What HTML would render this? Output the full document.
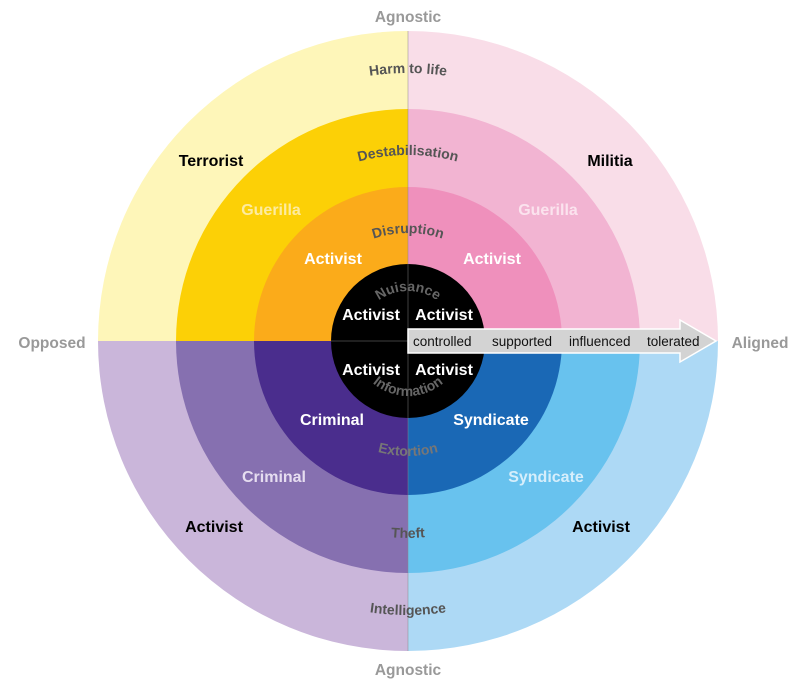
<!DOCTYPE html>
<html><head><style>
html,body{margin:0;padding:0;background:#fff;}
svg text{font-family:"Liberation Sans",Arial,sans-serif;font-weight:bold;}
</style></head><body>
<svg width="800" height="689" viewBox="0 0 800 689" xmlns="http://www.w3.org/2000/svg">
<defs>
<path id="t1" d="M140,341 A268,268 0 0 1 676,341"/>
<path id="t2" d="M222,341 A186,186 0 0 1 594,341"/>
<path id="t3" d="M300,341 A108,108 0 0 1 516,341"/>
<path id="t4" d="M358,341 A50,50 0 0 1 458,341"/>
<path id="b4" d="M353,341 A55,55 0 0 0 463,341"/>
<path id="b3" d="M293,341 A115,115 0 0 0 523,341"/>
<path id="b2" d="M211,341 A197,197 0 0 0 605,341"/>
<path id="b1" d="M134,341 A274,274 0 0 0 682,341"/>
</defs>
<g>
<path d="M408,341 L408,31 A310,310 0 0 0 98,341 Z" fill="#FEF6B9"/>
<path d="M408,341 L408,31 A310,310 0 0 1 718,341 Z" fill="#F9DDE8"/>
<path d="M408,341 L98,341 A310,310 0 0 0 408,651 Z" fill="#CAB6DA"/>
<path d="M408,341 L718,341 A310,310 0 0 1 408,651 Z" fill="#ADD9F5"/>
<path d="M408,341 L408,109 A232,232 0 0 0 176,341 Z" fill="#FCD006"/>
<path d="M408,341 L408,109 A232,232 0 0 1 640,341 Z" fill="#F2B4D2"/>
<path d="M408,341 L176,341 A232,232 0 0 0 408,573 Z" fill="#8670B0"/>
<path d="M408,341 L640,341 A232,232 0 0 1 408,573 Z" fill="#68C2EE"/>
<path d="M408,341 L408,187 A154,154 0 0 0 254,341 Z" fill="#FBAB1A"/>
<path d="M408,341 L408,187 A154,154 0 0 1 562,341 Z" fill="#EF90BC"/>
<path d="M408,341 L254,341 A154,154 0 0 0 408,495 Z" fill="#4A2D8D"/>
<path d="M408,341 L562,341 A154,154 0 0 1 408,495 Z" fill="#1A68B5"/>
<circle cx="408" cy="341" r="77" fill="#000"/>
<line x1="408" y1="31" x2="408" y2="651" stroke="#888" stroke-width="0.8" opacity="0.6"/>
<line x1="331" y1="341" x2="408" y2="341" stroke="#555" stroke-width="0.8"/>
</g>
<path d="M408,329 L680,329 L680,320 L716,341 L680,362 L680,353 L408,353 Z" fill="#D3D3D3" stroke="#fff" stroke-width="1.5"/>
<g font-size="13.5" fill="#111">
<text x="413" y="346" style="font-weight:normal">controlled</text>
<text x="492" y="346" style="font-weight:normal">supported</text>
<text x="569" y="346" style="font-weight:normal">influenced</text>
<text x="647" y="346" style="font-weight:normal">tolerated</text>
</g>
<g font-size="14" fill="#555" text-anchor="middle">
<text><textPath href="#t1" startOffset="50%">Harm to life</textPath></text>
<text><textPath href="#t2" startOffset="50%">Destabilisation</textPath></text>
<text><textPath href="#t3" startOffset="50%">Disruption</textPath></text>
<text fill="#666"><textPath href="#t4" startOffset="50%">Nuisance</textPath></text>
<text fill="#666"><textPath href="#b4" startOffset="50%">Information</textPath></text>
<text fill="#777"><textPath href="#b3" startOffset="50%">Extortion</textPath></text>
<text><textPath href="#b2" startOffset="50%">Theft</textPath></text>
<text><textPath href="#b1" startOffset="50%">Intelligence</textPath></text>
</g>
<g font-size="16" text-anchor="middle">
<text x="211" y="166" fill="#000">Terrorist</text>
<text x="610" y="166" fill="#000">Militia</text>
<text x="271" y="215" fill="#FDEBA0">Guerilla</text>
<text x="548" y="215" fill="#FBE3EE">Guerilla</text>
<text x="333" y="264" fill="#fff">Activist</text>
<text x="492" y="264" fill="#fff">Activist</text>
<text x="371" y="320" fill="#fff">Activist</text>
<text x="444" y="320" fill="#fff">Activist</text>
<text x="371" y="375" fill="#fff">Activist</text>
<text x="444" y="375" fill="#fff">Activist</text>
<text x="332" y="425" fill="#fff">Criminal</text>
<text x="491" y="425" fill="#fff">Syndicate</text>
<text x="274" y="482" fill="#E6DDF0">Criminal</text>
<text x="546" y="482" fill="#D6EEFB">Syndicate</text>
<text x="214" y="532" fill="#000">Activist</text>
<text x="601" y="532" fill="#000">Activist</text>
</g>
<g font-size="15.5" fill="#999" text-anchor="middle">
<text x="408" y="22">Agnostic</text>
<text x="408" y="675">Agnostic</text>
<text x="52" y="348">Opposed</text>
<text x="760" y="348">Aligned</text>
</g>
</svg>
</body></html>
